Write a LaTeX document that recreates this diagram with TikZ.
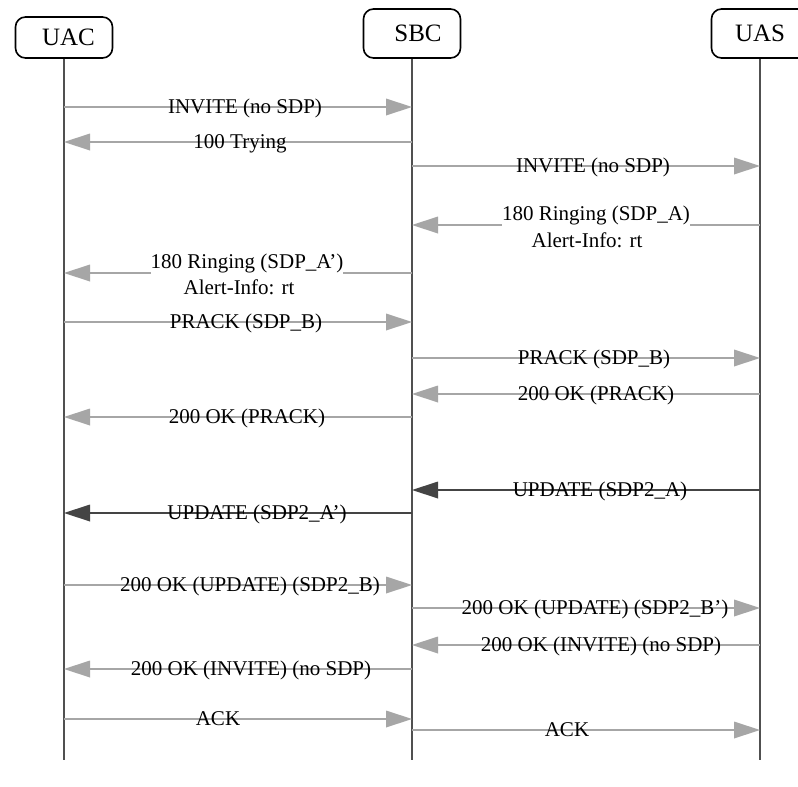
\documentclass[tikz,border=0pt]{standalone}
\usepackage{fontspec}
\setmainfont{Liberation Serif}
\usetikzlibrary{arrows.meta}
\definecolor{msggray}{HTML}{A6A6A6}
\definecolor{darkmsg}{HTML}{444444}
\definecolor{lifegray}{HTML}{505050}
\begin{document}
\begin{tikzpicture}[x=1pt,y=-1pt,
  hdr/.style={draw=black, line width=1.6pt, rounded corners=10pt, fill=white,
    minimum width=97pt, inner sep=0pt, font=\fontsize{25}{30}\selectfont},
  life/.style={draw=lifegray, line width=2.5pt},
  msg/.style={draw=msggray, line width=2.6pt,
    -{Triangle[length=26pt,width=17pt,line width=0pt]}},
  dmsg/.style={msg, draw=darkmsg},
  lbl/.style={anchor=base, inner sep=0pt, font=\fontsize{21}{25}\selectfont},
  wlbl/.style={lbl, fill=white, inner ysep=3pt}]
\useasboundingbox (0,0) rectangle (798,787);
\fill[white] (0,0) rectangle (798,787);

% headers
\node[hdr, minimum height=41pt] (uac) at (64,37.5) {\hspace*{9pt}UAC};
\node[hdr, minimum height=49pt] (sbc) at (412,33.5) {\hspace*{12pt}SBC};
\node[hdr, minimum height=49pt] (uas) at (760,33.5) {UAS};

\coordinate (uacend) at (64,760);
\coordinate (sbcend) at (412,760);
\coordinate (uasend) at (760,760);
\draw[life] (uac.south) -- (uacend);
\draw[life] (sbc.south) -- (sbcend);
\draw[life] (uas.south) -- (uasend);

% rows
\coordinate (r1) at (0,107);
\coordinate (r2) at (0,142);
\coordinate (r3) at (0,166);
\coordinate (r4) at (0,225);
\coordinate (r5) at (0,273);
\coordinate (r6) at (0,322);
\coordinate (r7) at (0,358);
\coordinate (r8) at (0,394);
\coordinate (r9) at (0,417);
\coordinate (r10) at (0,490);
\coordinate (r11) at (0,513);
\coordinate (r12) at (0,585);
\coordinate (r13) at (0,608);
\coordinate (r14) at (0,645);
\coordinate (r15) at (0,669);
\coordinate (r16) at (0,719);
\coordinate (r17) at (0,730);

\draw[msg] (uacend |- r1) -- (sbcend |- r1);
\node[lbl] (l1) at (245,113) {INVITE (no SDP)};

\draw[msg] (sbcend |- r2) -- (uacend |- r2);
\node[lbl] (l2) at (240,148) {100 Trying};

\draw[msg] (sbcend |- r3) -- (uasend |- r3);
\node[lbl] (l3) at (593,172) {INVITE (no SDP)};

\draw[msg] (uasend |- r4) -- (sbcend |- r4);
\node[wlbl] (l4a) at (596,220) {180 Ringing (SDP\_A)};
\node[lbl] (l4b) at (587,247) {Alert-Info: rt};

\draw[msg] (sbcend |- r5) -- (uacend |- r5);
\node[wlbl] (l5a) at (247,268.5) {180 Ringing (SDP\_A’)};
\node[lbl] (l5b) at (239,294) {Alert-Info: rt};

\draw[msg] (uacend |- r6) -- (sbcend |- r6);
\node[lbl] (l6) at (246,328) {PRACK (SDP\_B)};

\draw[msg] (sbcend |- r7) -- (uasend |- r7);
\node[lbl] (l7) at (594,364) {PRACK (SDP\_B)};

\draw[msg] (uasend |- r8) -- (sbcend |- r8);
\node[lbl] (l8) at (596,400) {200 OK (PRACK)};

\draw[msg] (sbcend |- r9) -- (uacend |- r9);
\node[lbl] (l9) at (247,423) {200 OK (PRACK)};

\draw[dmsg] (uasend |- r10) -- (sbcend |- r10);
\node[lbl] (l10) at (600,496) {UPDATE (SDP2\_A)};

\draw[dmsg] (sbcend |- r11) -- (uacend |- r11);
\node[lbl] (l11) at (257,519) {UPDATE (SDP2\_A’)};

\draw[msg] (uacend |- r12) -- (sbcend |- r12);
\node[lbl] (l12) at (250,591) {200 OK (UPDATE) (SDP2\_B)};

\draw[msg] (sbcend |- r13) -- (uasend |- r13);
\node[lbl] (l13) at (595,614) {200 OK (UPDATE) (SDP2\_B’)};

\draw[msg] (uasend |- r14) -- (sbcend |- r14);
\node[lbl] (l14) at (601,651) {200 OK (INVITE) (no SDP)};

\draw[msg] (sbcend |- r15) -- (uacend |- r15);
\node[lbl] (l15) at (251,675) {200 OK (INVITE) (no SDP)};

\draw[msg] (uacend |- r16) -- (sbcend |- r16);
\node[lbl] (l16) at (218,725) {ACK};

\draw[msg] (sbcend |- r17) -- (uasend |- r17);
\node[lbl] (l17) at (567,736) {ACK};
\end{tikzpicture}
\end{document}
